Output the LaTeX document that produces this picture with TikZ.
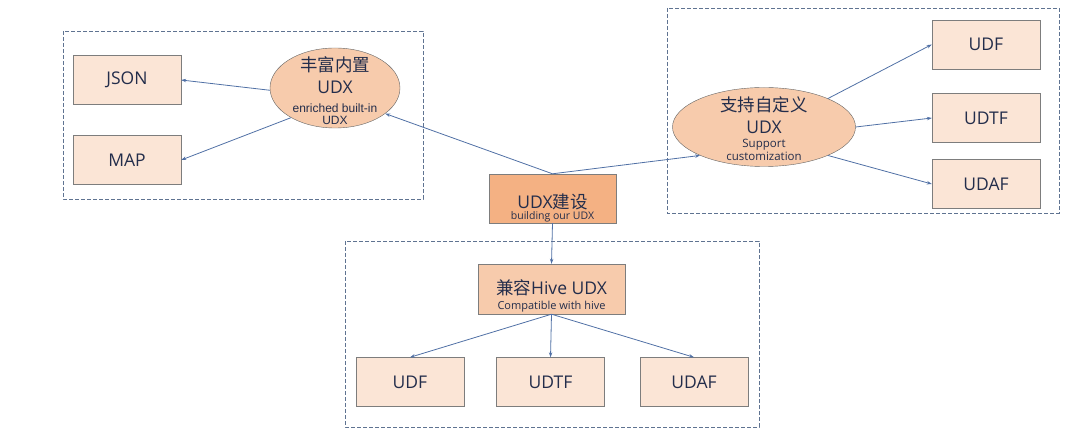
\documentclass[tikz,border=0pt]{standalone}
\usepackage{fontspec}
\setmainfont{Open Sans}
\newfontfamily\cjk{Noto Sans CJK SC}
\newfontfamily\narrowfont{Liberation Sans}
\usetikzlibrary{arrows.meta,shapes,positioning}
\definecolor{udxpale}{RGB}{251,229,214}
\definecolor{udxmid}{RGB}{247,203,172}
\definecolor{udxdeep}{RGB}{244,177,131}
\definecolor{udxedge}{RGB}{125,125,125}
\definecolor{udxline}{RGB}{80,112,165}
\definecolor{udxframe}{RGB}{95,115,145}
\definecolor{udxtext}{RGB}{35,45,75}

\tikzset{
  leafbox/.style={draw=udxedge,fill=udxpale,minimum width=108pt,minimum height=49pt,
    inner sep=0pt,text=udxtext,font=\fontsize{17.5}{22}\selectfont},
  hubbox/.style={draw=udxedge,inner sep=0pt,text=udxtext,align=center,
    font=\fontsize{17.5}{22}\selectfont},
  udxoval/.style={ellipse,draw=udxedge!80!black,fill=udxmid,inner sep=0pt},
  ovaltext/.style={text=udxtext,align=center,font=\fontsize{17.5}{22}\selectfont},
  groupbox/.style={draw=udxframe,dash pattern=on 4pt off 2pt,line width=0.7pt},
  link/.style={-{Stealth[length=5pt,width=3.5pt]},udxline,line width=0.8pt},
}

\begin{document}
\begin{tikzpicture}[x=1pt,y=-1pt]
\useasboundingbox (0,0) rectangle (1080,430);
% dashed group frames
\draw[groupbox] (63,31) rectangle (423,199);
\draw[groupbox] (667,8) rectangle (1059,213);
\draw[groupbox] (345,241) rectangle (759,427);

% left group: built-in
\node[leafbox] (jsonbox) at (127,80) {JSON};
\node[leafbox] (mapbox) at (127,160) {MAP};
\node[udxoval,minimum width=130pt,minimum height=80pt] (builtin) at (335,88) {};
\node[ovaltext] (builtintxt) at (335,91) {{\cjk 丰富内置}\\UDX\\[-3pt]{\narrowfont\fontsize{12}{11}\selectfont enriched built-in}\\[-10pt]{\narrowfont\fontsize{12}{11}\selectfont UDX}};

% right group: custom
\node[udxoval,minimum width=183pt,minimum height=79pt] (custom) at (764,127) {};
\node[ovaltext] (customtxt) at (764,129) {{\cjk 支持自定义}\\UDX\\[-8pt]{\fontsize{11.5}{13}\selectfont Support}\\[-9pt]{\fontsize{11.5}{13}\selectfont customization}};
\node[leafbox] (cudf) at (986,44.5) {UDF};
\node[leafbox] (cudtf) at (986,118) {UDTF};
\node[leafbox] (cudaf) at (986,184) {UDAF};

% centre
\node[hubbox,fill=udxdeep,minimum width=127pt,minimum height=49pt] (udxbuild) at (552.5,198.5) {\rule{0pt}{33.5pt}UDX{\cjk 建设}\\[-11.5pt]{\fontsize{10.5}{12}\selectfont building our UDX}};

% bottom group: hive
\node[hubbox,fill=udxmid,minimum width=147pt,minimum height=50pt] (hive) at (551.5,289) {\rule{0pt}{28pt}{\cjk 兼容}Hive UDX\\[-7pt]{\fontsize{11}{13}\selectfont Compatible with hive}};
\node[leafbox] (hudf) at (410,382) {UDF};
\node[leafbox] (hudtf) at (550.5,382) {UDTF};
\node[leafbox] (hudaf) at (694,382) {UDAF};

% connectors
\draw[link] (builtin.182) -- (jsonbox.east);
\draw[link] (builtin.214) -- (mapbox.east);
\draw[link] (udxbuild.north) -- (builtin.333);
\draw[link] (udxbuild.north) -- (custom.204);
\draw[link] (custom.24) -- (cudf.west);
\draw[link] (custom.east) -- (cudtf.west);
\draw[link] (custom.336) -- (cudaf.west);
\draw[link] (udxbuild.south) -- (hive.north);
\foreach \leaf in {hudf,hudtf,hudaf}
  \draw[link] (hive.south) -- (\leaf.north);
\end{tikzpicture}
\end{document}
